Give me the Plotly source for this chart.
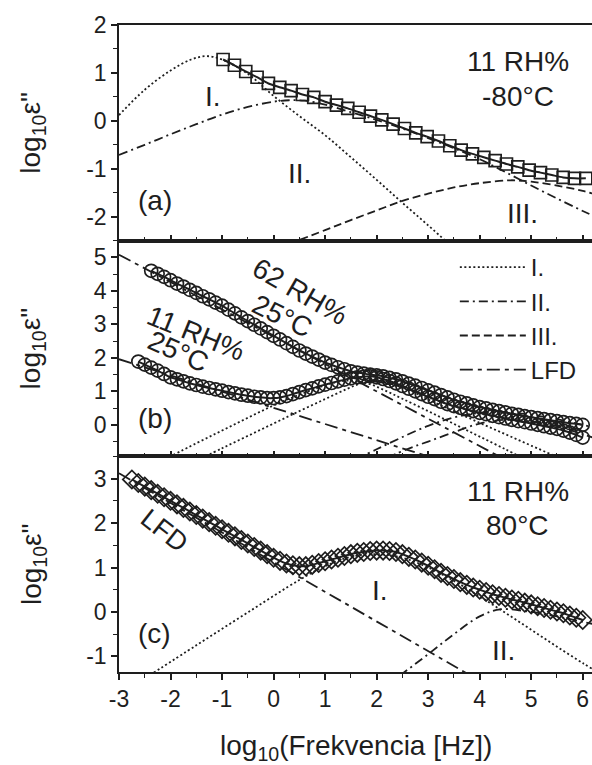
import plotly.graph_objects as go
from plotly.subplots import make_subplots

# ---------------- data ----------------
# panel (a): 11 RH%, -80 C
a_x = [-0.98, -0.76, -0.54, -0.32, -0.10, 0.12, 0.34, 0.56, 0.78, 1.00, 1.22, 1.44, 1.66, 1.88, 2.10,
       2.32, 2.54, 2.76, 2.98, 3.20, 3.42, 3.64, 3.86, 4.08, 4.30, 4.52, 4.74, 4.96, 5.18, 5.40,
       5.62, 5.84, 6.06]
a_y = [1.28, 1.16, 1.03, 0.91, 0.78, 0.70, 0.63, 0.55, 0.49, 0.40, 0.33, 0.26, 0.18, 0.10, 0.02,
       -0.07, -0.16, -0.25, -0.33, -0.42, -0.52, -0.61, -0.69, -0.76, -0.83, -0.90, -0.96, -1.03, -1.08, -1.13,
       -1.18, -1.20, -1.20]
a_I_x = [-3, -2.5, -2, -1.6, -1.3, -1.0, -0.5, 0, 0.5, 1, 1.5, 2, 2.5, 3, 3.5]
a_I_y = [0.12, 0.65, 1.05, 1.28, 1.35, 1.28, 0.98, 0.52, 0.10, -0.30, -0.76, -1.23, -1.71, -2.18, -2.66]
a_II_x = [-3, -2.5, -2, -1.5, -1, -0.5, 0, 0.3, 0.6, 1, 1.5, 2, 2.5, 3, 3.5, 4, 4.5, 5, 5.5, 6, 6.2]
a_II_y = [-0.71, -0.50, -0.28, -0.07, 0.13, 0.29, 0.40, 0.43, 0.42, 0.34, 0.18, 0.02, -0.16, -0.36, -0.57,
          -0.80, -1.07, -1.35, -1.62, -1.88, -1.98]
a_III_x = [0.3, 1, 1.5, 2, 2.5, 3, 3.5, 4, 4.6, 5, 5.5, 6, 6.2]
a_III_y = [-2.57, -2.28, -2.07, -1.87, -1.67, -1.52, -1.39, -1.30, -1.24, -1.27, -1.35, -1.46, -1.52]

# panel (b): 62 RH% and 11 RH%, 25 C
b62_x = [-2.375, -2.25, -2.125, -2.0, -1.875, -1.75, -1.625, -1.5, -1.375, -1.25, -1.125, -1.0,
         -0.875, -0.75, -0.625, -0.5, -0.375, -0.25, -0.125, 0.0, 0.125, 0.25, 0.375, 0.5,
         0.625, 0.75, 0.875, 1.0, 1.125, 1.25, 1.375, 1.5, 1.625, 1.75, 1.875, 2.0,
         2.125, 2.25, 2.375, 2.5, 2.625, 2.75, 2.875, 3.0, 3.125, 3.25, 3.375, 3.5,
         3.625, 3.75, 3.875, 4.0, 4.125, 4.25, 4.375, 4.5, 4.625, 4.75, 4.875, 5.0,
         5.125, 5.25, 5.375, 5.5, 5.625, 5.75, 5.875, 6.0]
b62_y = [4.60, 4.51, 4.42, 4.32, 4.22, 4.13, 4.03, 3.94, 3.84, 3.75, 3.65, 3.56,
         3.44, 3.33, 3.21, 3.10, 2.99, 2.88, 2.77, 2.66, 2.55, 2.44, 2.33, 2.22,
         2.13, 2.04, 1.95, 1.86, 1.79, 1.72, 1.66, 1.60, 1.56, 1.53, 1.50, 1.48,
         1.45, 1.40, 1.36, 1.30, 1.23, 1.17, 1.10, 1.03, 0.96, 0.89, 0.82, 0.75,
         0.69, 0.64, 0.58, 0.53, 0.49, 0.45, 0.41, 0.37, 0.33, 0.30, 0.26, 0.23,
         0.20, 0.17, 0.14, 0.11, 0.08, 0.05, 0.03, 0.00]
b11_x = [-2.625, -2.5, -2.375, -2.25, -2.125, -2.0, -1.875, -1.75, -1.625, -1.5, -1.375, -1.25,
         -1.125, -1.0, -0.875, -0.75, -0.625, -0.5, -0.375, -0.25, -0.125, 0.0, 0.125, 0.25,
         0.375, 0.5, 0.625, 0.75, 0.875, 1.0, 1.125, 1.25, 1.375, 1.5, 1.625, 1.75,
         1.875, 2.0, 2.125, 2.25, 2.375, 2.5, 2.625, 2.75, 2.875, 3.0, 3.125, 3.25,
         3.375, 3.5, 3.625, 3.75, 3.875, 4.0, 4.125, 4.25, 4.375, 4.5, 4.625, 4.75,
         4.875, 5.0, 5.125, 5.25, 5.375, 5.5, 5.625, 5.75, 5.875, 6.0]
b11_y = [1.89, 1.80, 1.71, 1.62, 1.52, 1.42, 1.36, 1.30, 1.24, 1.19, 1.14, 1.10,
         1.06, 1.02, 0.98, 0.94, 0.90, 0.87, 0.84, 0.82, 0.80, 0.80, 0.82, 0.86,
         0.92, 0.98, 1.04, 1.09, 1.15, 1.20, 1.25, 1.30, 1.35, 1.39, 1.42, 1.44,
         1.45, 1.42, 1.37, 1.31, 1.24, 1.16, 1.08, 1.00, 0.92, 0.84, 0.77, 0.69,
         0.62, 0.56, 0.51, 0.46, 0.41, 0.36, 0.32, 0.27, 0.23, 0.19, 0.15, 0.11,
         0.08, 0.04, 0.00, -0.04, -0.08, -0.12, -0.17, -0.23, -0.30, -0.38]
b_I11_x = [-2.1, -1.5, -1, -0.5, 0, 0.5, 0.9, 1.2, 1.4, 1.6, 1.9, 2.2, 2.5, 3, 3.5, 4, 4.5, 4.85]
b_I11_y = [-1.02, -0.55, -0.17, 0.21, 0.58, 0.90, 1.13, 1.27, 1.32, 1.30, 1.20, 1.00, 0.78, 0.41, 0.03,
           -0.35, -0.73, -1.00]
b_I62_x = [-1.4, -1, -0.5, 0, 0.5, 1, 1.42, 1.7, 1.95, 2.2, 2.6, 3, 3.5, 4, 4.5, 5, 5.55]
b_I62_y = [-1.00, -0.70, -0.33, 0.04, 0.41, 0.77, 1.07, 1.24, 1.30, 1.26, 1.06, 0.76, 0.41, 0.06, -0.28,
           -0.62, -0.99]
b_IIA_x = [1.6, 2, 2.45, 3, 3.5, 4, 4.5, 5, 5.5, 6, 6.2]
b_IIA_y = [-1.03, -0.73, -0.40, -0.03, 0.22, 0.36, 0.38, 0.30, 0.17, 0.00, -0.07]
b_IIB_x = [2.2, 2.6, 3, 3.5, 4, 4.5, 5, 5.5, 6, 6.2]
b_IIB_y = [-0.99, -0.72, -0.50, -0.22, 0.04, 0.15, 0.10, -0.04, -0.28, -0.38]
b_LFD62_x = [-3, 4.45]
b_LFD62_y = [5.08, -1.00]
b_LFD11_x = [-3, 3.1]
b_LFD11_y = [1.96, -0.99]

# panel (c): 11 RH%, 80 C
c_x = [-2.75, -2.625, -2.5, -2.375, -2.25, -2.125, -2.0, -1.875, -1.75, -1.625, -1.5, -1.375,
       -1.25, -1.125, -1.0, -0.875, -0.75, -0.625, -0.5, -0.375, -0.25, -0.125, 0.0, 0.125,
       0.25, 0.375, 0.5, 0.625, 0.75, 0.875, 1.0, 1.125, 1.25, 1.375, 1.5, 1.625,
       1.75, 1.875, 2.0, 2.125, 2.25, 2.375, 2.5, 2.625, 2.75, 2.875, 3.0, 3.125,
       3.25, 3.375, 3.5, 3.625, 3.75, 3.875, 4.0, 4.125, 4.25, 4.375, 4.5, 4.625,
       4.75, 4.875, 5.0, 5.125, 5.25, 5.375, 5.5, 5.625, 5.75, 5.875, 6.0]
c_y = [2.98, 2.90, 2.82, 2.74, 2.66, 2.58, 2.50, 2.42, 2.34, 2.26, 2.18, 2.10,
       2.02, 1.94, 1.86, 1.78, 1.70, 1.62, 1.54, 1.46, 1.38, 1.30, 1.22, 1.15,
       1.09, 1.05, 1.03, 1.03, 1.06, 1.10, 1.14, 1.18, 1.22, 1.26, 1.30, 1.33,
       1.35, 1.37, 1.38, 1.38, 1.37, 1.35, 1.30, 1.24, 1.18, 1.11, 1.04, 0.96,
       0.88, 0.81, 0.74, 0.67, 0.61, 0.55, 0.50, 0.45, 0.40, 0.36, 0.32, 0.28,
       0.25, 0.21, 0.17, 0.13, 0.09, 0.05, 0.01, -0.03, -0.08, -0.13, -0.18]
c_I_x = [-2.4, -1.5, -0.5, 0.5, 1.0, 1.5, 2.0, 2.5, 3.0, 3.5, 4.0, 4.5, 5.0, 5.5, 6.0, 6.2]
c_I_y = [-1.42, -0.75, -0.01, 0.72, 1.03, 1.24, 1.30, 1.22, 1.00, 0.70, 0.35, -0.02, -0.40, -0.78,
         -1.15, -1.29]
c_II_x = [2.45, 3, 3.5, 4, 4.4, 5, 5.5, 6, 6.2]
c_II_y = [-1.43, -0.95, -0.50, -0.10, 0.06, 0.00, -0.10, -0.22, -0.27]
c_LFD_x = [-3, 3.75]
c_LFD_y = [3.12, -1.38]

x_ticks = [-3, -2, -1, 0, 1, 2, 3, 4, 5, 6]
x_ticktext = ["-3", "-2", "-1", "0", "1", "2", "3", "4", "5", "6"]
ya_ticks = [-2, -1, 0, 1, 2]
ya_text = ["-2", "-1", "0", "1", "2"]
yb_ticks = [0, 1, 2, 3, 4, 5]
yb_text = ["0", "1", "2", "3", "4", "5"]
yc_ticks = [-1, 0, 1, 2, 3]
yc_text = ["-1", "0", "1", "2", "3"]

# ---------------- styles ----------------
INK = "#1e1e1e"
FONT = "Liberation Sans, Arial, sans-serif"
DOT = "2px,2.5px"
DASHDOT = "9px,4px,2px,4px"
DASH = "8px,4px"
LFD = "13px,5px,4px,5px"

fig = make_subplots(rows=3, cols=1, vertical_spacing=0)


def comp(x, y, dash, row, name=None, show=False, rank=None):
    fig.add_trace(go.Scatter(x=x, y=y, mode="lines", line=dict(color=INK, width=1.8, dash=dash,
                                                               shape="spline", smoothing=1.0),
                             name=name, showlegend=show, legendrank=rank, hoverinfo="skip"),
                  row=row, col=1)


def data(x, y, symbol, size, row):
    fig.add_trace(go.Scatter(x=x, y=y, mode="lines+markers",
                             line=dict(color=INK, width=2.0, shape="spline", smoothing=0.6),
                             marker=dict(symbol=symbol, size=size, color=INK,
                                         line=dict(color=INK, width=1.7)),
                             showlegend=False), row=row, col=1)


# (a)
comp(a_I_x, a_I_y, DOT, 1)
comp(a_II_x, a_II_y, DASHDOT, 1)
comp(a_III_x, a_III_y, DASH, 1, name="III.", show=True, rank=3)
data(a_x, a_y, "square-open", 12, 1)

# (b)
comp(b_LFD62_x, b_LFD62_y, LFD, 2, name="LFD", show=True, rank=4)
comp(b_LFD11_x, b_LFD11_y, LFD, 2)
comp(b_I11_x, b_I11_y, DOT, 2, name="I.", show=True, rank=1)
comp(b_I62_x, b_I62_y, DOT, 2)
comp(b_IIA_x, b_IIA_y, DASHDOT, 2, name="II.", show=True, rank=2)
comp(b_IIB_x, b_IIB_y, DASHDOT, 2)
data(b62_x, b62_y, "circle-open", 13, 2)
data(b11_x, b11_y, "circle-open", 13, 2)

# (c)
comp(c_LFD_x, c_LFD_y, LFD, 3)
comp(c_I_x, c_I_y, DOT, 3)
comp(c_II_x, c_II_y, DASHDOT, 3)
data(c_x, c_y, "diamond-open", 14, 3)

# ---------------- axes ----------------
xrange = [-3, 6.18]
for r in (1, 2, 3):
    fig.update_xaxes(row=r, col=1, range=xrange, tickmode="array", tickvals=x_ticks, ticktext=x_ticktext,
                     showticklabels=(r == 3), ticks=("outside" if r == 3 else "inside"),
                     ticklen=6, tickwidth=1.5, tickcolor=INK,
                     minor=dict(dtick=0.5, tick0=0, ticks=("outside" if r == 3 else "inside"),
                                ticklen=4, tickwidth=1.3, tickcolor=INK),
                     showline=True, linecolor=INK, linewidth=1.5, mirror=True,
                     showgrid=False, zeroline=False, automargin=False,
                     tickfont=dict(family=FONT, size=23, color=INK))

yspec = {1: ([-2.5, 2], ya_ticks, ya_text), 2: ([-0.94, 5.5], yb_ticks, yb_text),
         3: ([-1.35, 3.5], yc_ticks, yc_text)}
for r, (rng, tv, tt) in yspec.items():
    fig.update_yaxes(row=r, col=1, range=rng, tickmode="array", tickvals=tv, ticktext=tt,
                     ticks="outside", ticklen=6, tickwidth=1.5, tickcolor=INK,
                     minor=dict(dtick=0.5, tick0=0, ticks="outside", ticklen=4, tickwidth=1.3,
                                tickcolor=INK),
                     showline=True, linecolor=INK, linewidth=1.5, mirror=False,
                     showgrid=False, zeroline=False, automargin=False,
                     tickfont=dict(family=FONT, size=23, color=INK))

# ---------------- annotations ----------------
ann = []


def txt(t, x, y, row, size=28, angle=0):
    xr = "x" if row == 1 else f"x{row}"
    yr = "y" if row == 1 else f"y{row}"
    ann.append(dict(text=t, x=x, y=y, xref=xr, yref=yr, showarrow=False, textangle=angle,
                    font=dict(family=FONT, size=size, color=INK), xanchor="center", yanchor="middle"))


txt("11 RH%", 4.74, 1.23, 1)
txt("-80°C", 4.74, 0.50, 1)
txt("I.", -1.18, 0.50, 1)
txt("II.", 0.51, -1.10, 1)
txt("III.", 4.84, -1.93, 1)
txt("(a)", -2.31, -1.66, 1)

txt("62 RH%", 0.51, 3.98, 2, angle=30)
txt("25°C", 0.18, 3.24, 2, angle=26)
txt("11 RH%", -1.50, 2.74, 2, angle=22)
txt("25°C", -1.85, 2.19, 2, angle=24)
txt("(b)", -2.31, 0.20, 2)

txt("11 RH%", 4.74, 2.71, 3)
txt("80°C", 4.74, 1.94, 3)
txt("I.", 2.06, 0.49, 3)
txt("II.", 4.46, -0.86, 3)
txt("(c)", -2.31, -0.48, 3)
txt("LFD", -2.11, 1.83, 3, size=27, angle=38)

ylab = "log<sub>10</sub>ε\""
for yc in (5 / 6, 0.5, 1 / 6):
    ann.append(dict(text=ylab, x=-0.182, y=yc, xref="paper", yref="paper", showarrow=False,
                    textangle=-90, font=dict(family=FONT, size=28, color=INK),
                    xanchor="center", yanchor="middle"))
ann.append(dict(text="log<sub>10</sub>(Frekvencia [Hz])", x=0.5, y=-0.116, xref="paper", yref="paper",
                showarrow=False, font=dict(family=FONT, size=28, color=INK),
                xanchor="center", yanchor="middle"))

fig.update_layout(
    width=592, height=765,
    margin=dict(l=119, r=0, t=25, b=93, autoexpand=False),
    paper_bgcolor="white", plot_bgcolor="white",
    annotations=ann,
    showlegend=True,
    legend=dict(x=0.71, y=0.66, xanchor="left", yanchor="top", bgcolor="rgba(0,0,0,0)",
                font=dict(family=FONT, size=24, color=INK), itemwidth=66, tracegroupgap=0,
                traceorder="normal"),
)

fig.write_html("out.html", config={"displayModeBar": False},
               post_script="document.body.style.margin='0px';document.body.style.overflow='hidden';")
